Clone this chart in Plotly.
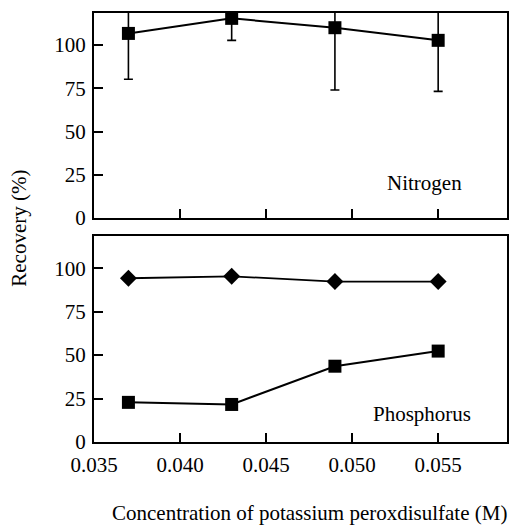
import plotly.graph_objects as go

conc = [0.037, 0.043, 0.049, 0.055]
nitrogen = [106.7, 115.4, 110.0, 102.7]
nitrogen_err = [26.5, 12.7, 36.0, 29.5]
phos_diamond = [94.2, 95.3, 92.3, 92.3]
phos_square = [22.8, 21.6, 43.6, 52.3]
xticks = [0.035, 0.040, 0.045, 0.050, 0.055]
yticks = [0, 25, 50, 75, 100]

FONT = "Liberation Serif"
FS = 21

fig = go.Figure()
fig.add_trace(go.Scatter(
    x=conc, y=nitrogen, mode="lines+markers",
    line=dict(color="black", width=2),
    marker=dict(symbol="square", size=13, color="black"),
    error_y=dict(type="data", array=nitrogen_err, visible=True,
                 color="black", thickness=1.6, width=4.5),
    xaxis="x", yaxis="y", showlegend=False))
fig.add_trace(go.Scatter(
    x=conc, y=phos_diamond, mode="lines+markers",
    line=dict(color="black", width=1.8),
    marker=dict(symbol="diamond", size=13, color="black"),
    xaxis="x2", yaxis="y2", showlegend=False))
fig.add_trace(go.Scatter(
    x=conc, y=phos_square, mode="lines+markers",
    line=dict(color="black", width=2),
    marker=dict(symbol="square", size=13, color="black"),
    xaxis="x2", yaxis="y2", showlegend=False))

axcommon = dict(showgrid=False, zeroline=False, showline=True, linecolor="black",
                linewidth=2, mirror=True, ticks="inside", ticklen=9, tickwidth=1.8,
                tickcolor="black", tickfont=dict(family=FONT, size=FS))

fig.update_layout(
    template="none",
    width=518, height=528,
    margin=dict(l=94, r=11, t=13, b=86),
    paper_bgcolor="white", plot_bgcolor="white",
    font=dict(family=FONT, size=FS, color="#000000"),
    xaxis=dict(domain=[0, 1], anchor="y", range=[0.035, 0.059],
               tickvals=xticks, showticklabels=False, **axcommon),
    yaxis=dict(domain=[0.5221, 1], anchor="x", range=[0, 118.5],
               tickvals=yticks, ticklabelstandoff=2, **axcommon),
    xaxis2=dict(domain=[0, 1], anchor="y2", range=[0.035, 0.059],
                tickvals=xticks, tickformat=".3f", ticklabelstandoff=3, **axcommon),
    yaxis2=dict(domain=[0, 0.4802], anchor="x2", range=[0, 118.5],
                tickvals=yticks, ticklabelstandoff=2, **axcommon),
    annotations=[
        dict(text="Nitrogen", xref="paper", yref="paper", x=0.896, y=0.604,
             xanchor="right", yanchor="middle", showarrow=False,
             font=dict(family=FONT, size=FS)),
        dict(text="Phosphorus", xref="paper", yref="paper", x=0.918, y=0.065,
             xanchor="right", yanchor="middle", showarrow=False,
             font=dict(family=FONT, size=FS)),
        dict(text="Concentration of potassium peroxdisulfate (M)", xref="paper",
             yref="paper", x=0.523, y=-0.166, xanchor="center", yanchor="middle",
             showarrow=False, font=dict(family=FONT, size=FS)),
        dict(text="Recovery (%)", xref="paper", yref="paper", x=-0.182, y=0.499,
             xanchor="center", yanchor="middle", textangle=-90, showarrow=False,
             font=dict(family=FONT, size=FS)),
    ],
)

fig.write_html("out.html")
